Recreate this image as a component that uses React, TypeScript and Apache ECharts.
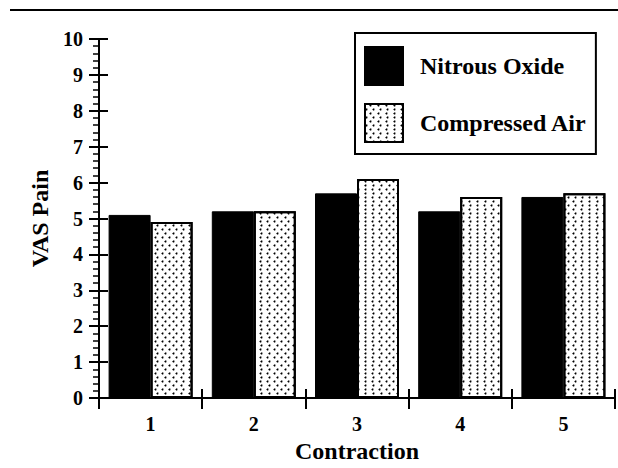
import React, { useEffect, useRef } from "react";
import * as echarts from "echarts";

const categories = ["1", "2", "3", "4", "5"];
const nitrousOxide = [5.1, 5.2, 5.7, 5.2, 5.6];
const compressedAir = [4.9, 5.2, 6.1, 5.6, 5.7];
const seriesNames = ["Nitrous Oxide", "Compressed Air"];

const FONT = "'Liberation Serif', 'Times New Roman', serif";

export default function App() {
  const ref = useRef<HTMLDivElement>(null);
  useEffect(() => {
    if (!ref.current) return;
    document.body.style.margin = "0";
    const chart = echarts.init(ref.current, null, { renderer: "svg" });
    const dotDecal = {
      symbol: "circle",
      symbolSize: 0.65,
      color: "#000",
      dashArrayX: [
        [3, 4],
        [0, 3.5, 3, 0.5],
      ],
      dashArrayY: [3, 1],
      rotation: 0,
    };
    chart.setOption({
      animation: false,
      backgroundColor: "#fff",
      textStyle: { fontFamily: FONT, color: "#000", fontWeight: "bold" },
      graphic: [
        {
          type: "line",
          shape: { x1: 10, y1: 10, x2: 618, y2: 10 },
          style: { stroke: "#000", lineWidth: 2 },
          silent: true,
        },
      ],
      grid: { left: 99, right: 3, top: 39, bottom: 66, containLabel: false },
      legend: {
        orient: "vertical",
        left: 355,
        top: 33,
        itemWidth: 38,
        itemHeight: 38,
        itemGap: 17,
        padding: [13, 9, 11, 9],
        borderColor: "#000",
        borderWidth: 2,
        icon: "rect",
        data: seriesNames,
        textStyle: {
          fontFamily: FONT,
          fontWeight: "bold",
          fontSize: 24,
          color: "#000",
          padding: [0, 0, 0, 12],
        },
      },
      xAxis: [
        {
          type: "category",
          data: categories,
          axisLine: { show: true, lineStyle: { color: "#000", width: 2 } },
          axisTick: { show: true, length: 11, lineStyle: { color: "#000", width: 2 } },
          axisLabel: {
            margin: 16,
            fontFamily: FONT,
            fontWeight: "bold",
            fontSize: 20,
            color: "#000",
          },
          name: "Contraction",
          nameLocation: "middle",
          nameGap: 41,
          nameTextStyle: { fontFamily: FONT, fontWeight: "bold", fontSize: 24, color: "#000" },
        },
        {
          type: "category",
          data: categories,
          position: "bottom",
          axisLine: { show: false },
          axisTick: { show: true, inside: true, length: 9, lineStyle: { color: "#000", width: 2 } },
          axisLabel: { show: false },
        },
      ],
      yAxis: [
        {
          type: "value",
          min: 0,
          max: 10,
          interval: 1,
          axisLine: { show: true, lineStyle: { color: "#000", width: 2 } },
          axisTick: { show: true, length: 10, lineStyle: { color: "#000", width: 2 } },
          minorTick: { show: true, splitNumber: 5, length: 6, lineStyle: { color: "#000", width: 1.5 } },
          splitLine: { show: false },
          axisLabel: {
            margin: 16,
            fontFamily: FONT,
            fontWeight: "bold",
            fontSize: 20,
            color: "#000",
          },
          name: "VAS Pain",
          nameLocation: "middle",
          nameGap: 45,
          nameTextStyle: { fontFamily: FONT, fontWeight: "bold", fontSize: 24, color: "#000" },
        },
        {
          type: "value",
          min: 0,
          max: 10,
          interval: 1,
          position: "left",
          axisLine: { show: false },
          axisTick: { show: true, inside: true, length: 9, lineStyle: { color: "#000", width: 2 } },
          splitLine: { show: false },
          axisLabel: { show: false },
        },
      ],
      series: [
        {
          name: seriesNames[0],
          type: "bar",
          data: nitrousOxide,
          barWidth: 42,
          barGap: "0%",
          itemStyle: { color: "#000", borderColor: "#000", borderWidth: 1 },
        },
        {
          name: seriesNames[1],
          type: "bar",
          data: compressedAir,
          barWidth: 42,
          barGap: "0%",
          itemStyle: {
            color: "#fff",
            borderColor: "#000",
            borderWidth: 2,
            decal: dotDecal,
          },
        },
      ],
    });
    return () => chart.dispose();
  }, []);
  return <div ref={ref} style={{ width: 618, height: 468 }} />;
}
